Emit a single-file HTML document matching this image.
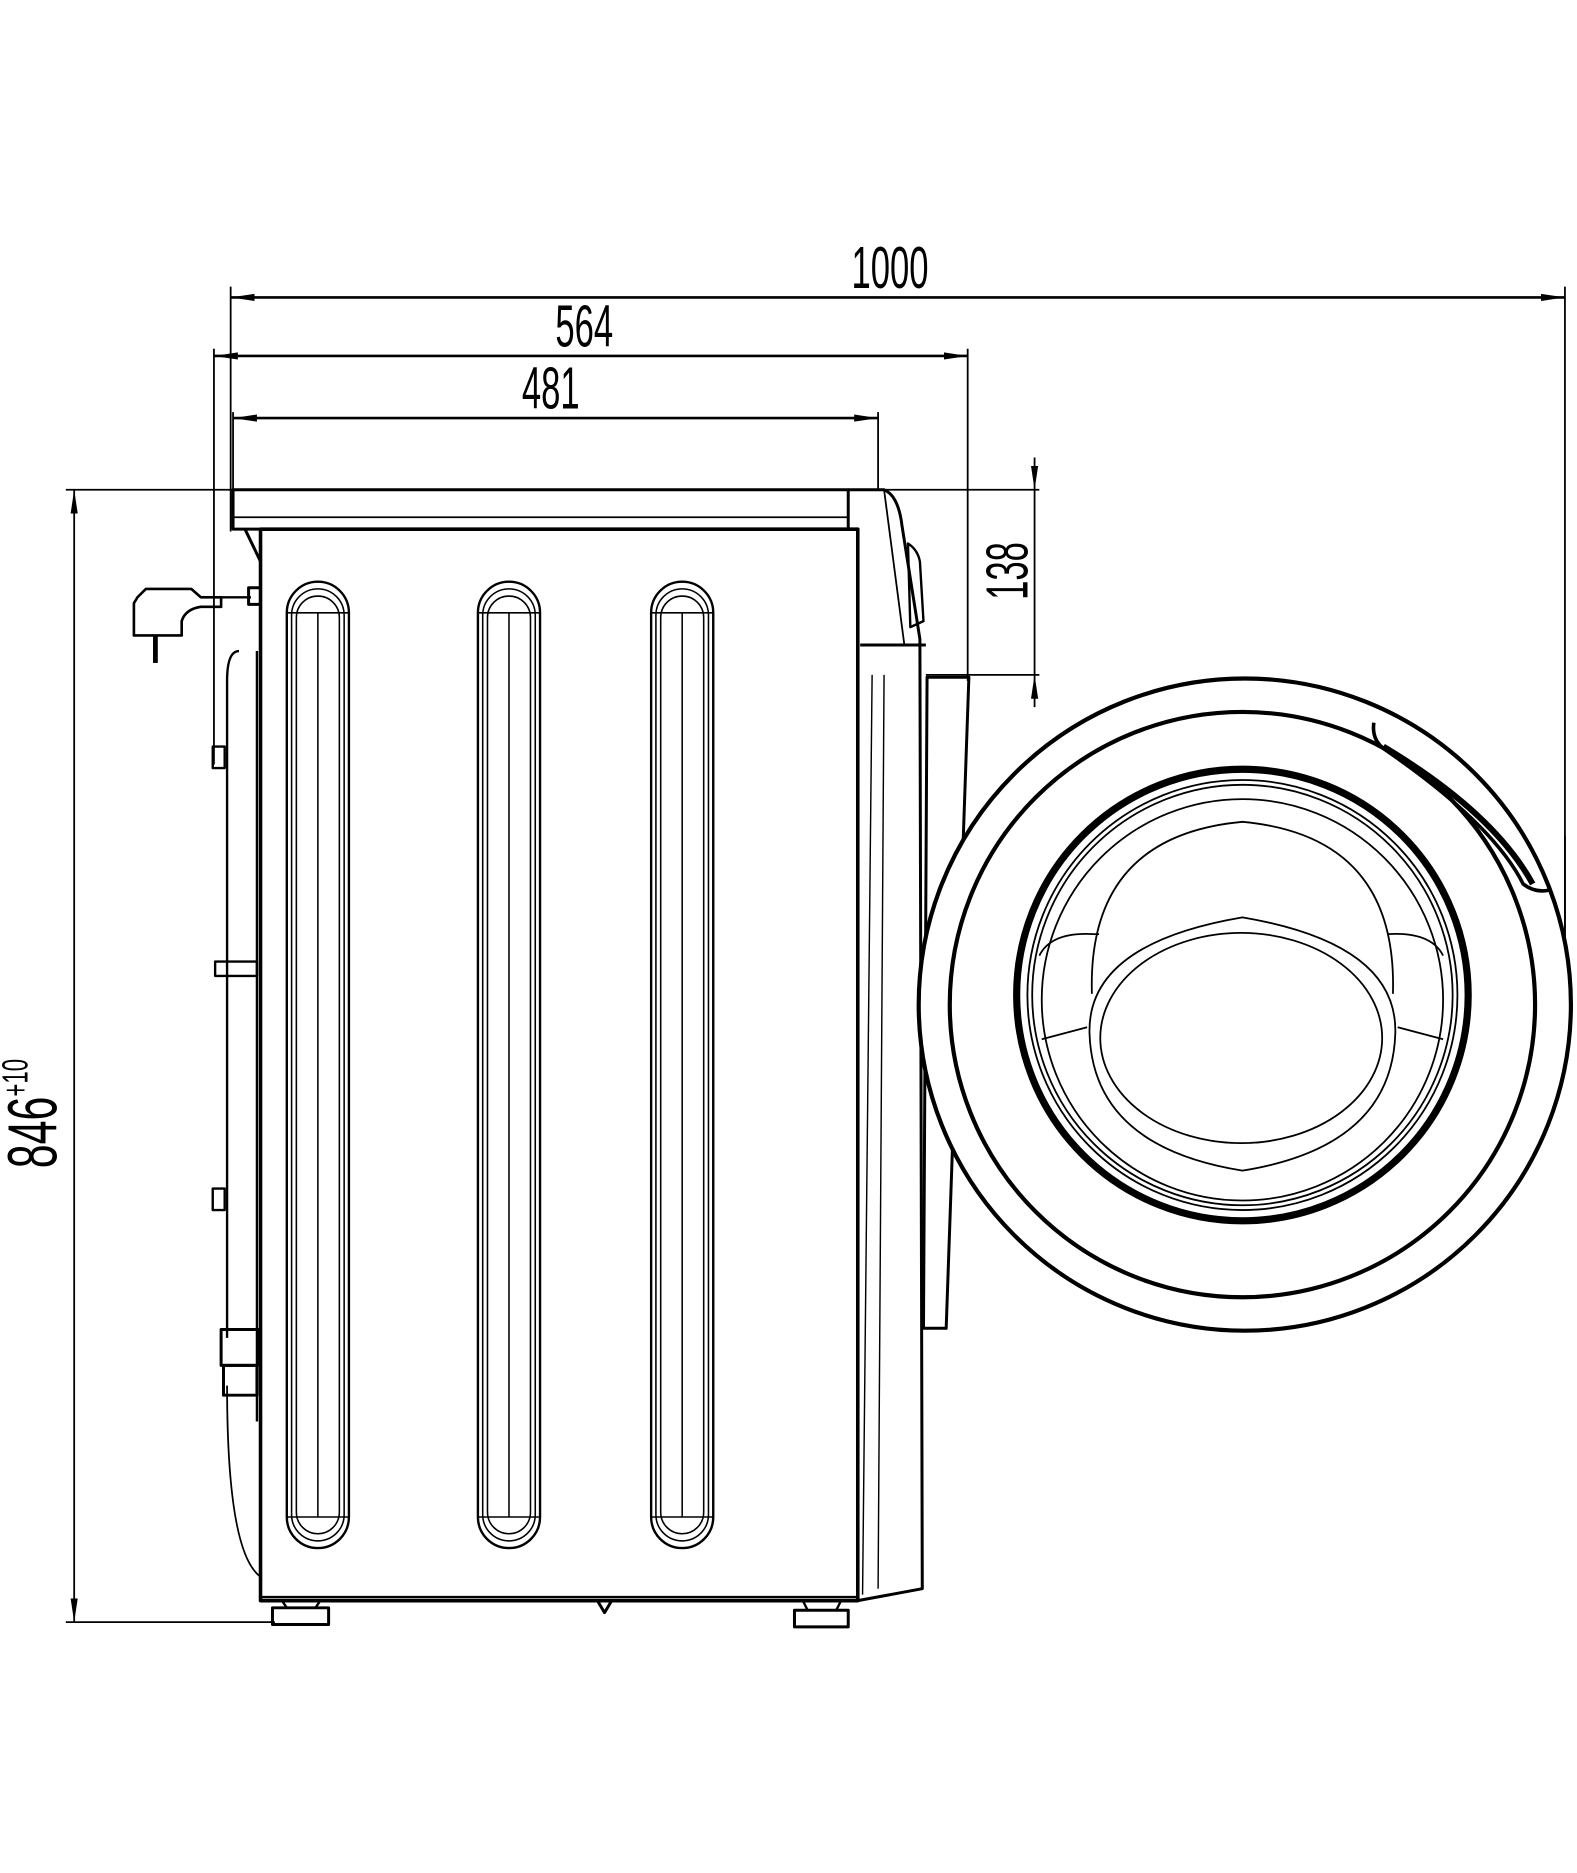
<!DOCTYPE html>
<html><head><meta charset="utf-8"><style>html,body{margin:0;padding:0;background:#fff}svg{display:block}</style></head>
<body>
<svg width="1577" height="1873" viewBox="0 0 1320 1568" xmlns="http://www.w3.org/2000/svg" fill="none" stroke="#000" stroke-linejoin="round">
<defs><marker id="a" viewBox="0 0 20 8" refX="20" refY="4" markerWidth="20" markerHeight="8" markerUnits="userSpaceOnUse" orient="auto-start-reverse"><path d="M0,1 L20,4 L0,7 Z" fill="#000" stroke="none"/></marker></defs>
<g stroke-width="1.5">
<line x1="193" y1="249" x2="1310" y2="249" stroke-width="2.2" marker-start="url(#a)" marker-end="url(#a)"/>
<line x1="193" y1="240" x2="193" y2="445"/>
<line x1="1310" y1="240" x2="1310" y2="790"/>
<line x1="179" y1="298" x2="810" y2="298" stroke-width="2.2" marker-start="url(#a)" marker-end="url(#a)"/>
<line x1="179" y1="292" x2="179" y2="640"/>
<line x1="810" y1="292" x2="810" y2="570"/>
<line x1="195" y1="350" x2="735" y2="350" stroke-width="2.2" marker-start="url(#a)" marker-end="url(#a)"/>
<line x1="195" y1="345" x2="195" y2="410"/>
<line x1="735" y1="345" x2="735" y2="410"/>
<line x1="55" y1="410" x2="870" y2="410"/>
<line x1="62" y1="410" x2="62" y2="1358" marker-start="url(#a)" marker-end="url(#a)"/>
<line x1="55" y1="1358" x2="230" y2="1358"/>
<line x1="866" y1="383" x2="866" y2="410" marker-end="url(#a)"/>
<line x1="866" y1="565" x2="866" y2="592" marker-start="url(#a)"/>
<line x1="866" y1="410" x2="866" y2="565"/>
<line x1="775" y1="565" x2="870" y2="565"/>
</g>
<g fill="#000" stroke="none" font-family="'Liberation Sans',sans-serif" font-size="50">
<text transform="translate(745,241) scale(0.58,1)" text-anchor="middle">1000</text>
<text transform="translate(489,290) scale(0.58,1)" text-anchor="middle">564</text>
<text transform="translate(461,342) scale(0.58,1)" text-anchor="middle">481</text>
<text transform="translate(860,478) rotate(-90) scale(0.58,1)" text-anchor="middle">138</text>
<text transform="translate(47,978) rotate(-90) scale(0.62,1)" font-size="58">846<tspan font-size="30" dy="-24">+10</tspan></text>
</g>
<!-- machine body -->
<g stroke-width="2.5">
<rect x="195" y="410" width="515" height="33"/>
<line x1="195" y1="433" x2="710" y2="433" stroke-width="1.5"/>
<rect x="218" y="443" width="500" height="897" stroke-width="3"/>
<line x1="218" y1="1337" x2="718" y2="1337" stroke-width="2"/>
<path d="M710,410 H740 Q752,415 755,440 L770,535 L772,1330 L718,1340"/>
<path d="M740,410 L757,540" stroke-width="1.5"/>
<path d="M720,540 H775"/>
<path d="M760,455 Q768,460 770,470 L773,520 L762,525 Z" stroke-width="2"/>
<path d="M776,567 H811 L792,1112 H773 Z" stroke-width="2.5"/>
<path d="M730,565 L722,1335 M740,565 L735,1330" stroke-width="1.2"/>
<path d="M205,443 L218,470" />
<path d="M200,545 Q190,545 190,570 L190,1120 M215,545 L215,1190" stroke-width="2"/>
<path d="M190,1160 Q190,1300 218,1320" stroke-width="1.5"/>
<rect x="185" y="1113" width="32" height="30"/><rect x="187" y="1143" width="28" height="25"/>
<rect x="180" y="805" width="35" height="12" stroke-width="2"/>
<rect x="178" y="625" width="10" height="18" stroke-width="2"/><rect x="178" y="995" width="10" height="18" stroke-width="2"/>
<!-- plug -->
<path d="M115,500 L122,493 H160 L168,500 H185 V508 H168 Q155,510 152,520 V532 H112 V505 Z" stroke-width="2.2"/>
<line x1="130" y1="532" x2="130" y2="555" stroke-width="4"/>
<line x1="185" y1="500" x2="210" y2="500" stroke-width="2"/>
<rect x="208" y="492" width="10" height="14"/>
<!-- feet -->
<rect x="228" y="1346" width="47" height="14"/><rect x="665" y="1348" width="45" height="14"/>
<path d="M236,1340 L240,1346 M268,1340 L264,1346 M672,1340 L676,1348 M704,1340 L700,1348" stroke-width="2"/>
<path d="M500,1340 L506,1350 L512,1340"/>
</g>
<!-- ribs -->
<g stroke-width="1.3">
<g id="rib">
<path d="M240,513 A26,26 0 0 1 292,513 V1270 A26,26 0 0 1 240,1270 Z" stroke-width="2"/>
<path d="M244,515 A22,22 0 0 1 288,515 V1268 A22,22 0 0 1 244,1268 Z"/>
<path d="M248,517 A18,18 0 0 1 284,517 V1266 A18,18 0 0 1 248,1266 Z"/>
<line x1="266" y1="513" x2="266" y2="1270"/>
<line x1="240" y1="513" x2="292" y2="513"/><line x1="240" y1="1270" x2="292" y2="1270"/>
</g>
<use href="#rib" x="160"/>
<use href="#rib" x="305"/>
</g>
<!-- porthole -->
<g>
<ellipse cx="1042" cy="841" rx="273" ry="273" stroke-width="3.5" fill="#fff"/>
<line x1="1310" y1="700" x2="1310" y2="790" stroke-width="1.5"/>
<ellipse cx="1040" cy="841" rx="245" ry="245" stroke-width="3.5"/>
<path d="M1150,605 Q1148,620 1160,628 Q1250,690 1275,740 Q1285,748 1298,745" stroke-width="3"/>
<path d="M1158,625 Q1250,680 1283,740" stroke-width="5"/>
<circle cx="1040" cy="833" r="189" stroke-width="6"/>
<circle cx="1040" cy="833" r="180" stroke-width="1.5"/>
<circle cx="1040" cy="833" r="176" stroke-width="1.5"/>
<circle cx="1040" cy="837" r="168" stroke-width="1.5"/>
<path d="M914,832 Q910,700 1040,688 Q1170,700 1166,832" stroke-width="1.5"/>
<ellipse cx="1039" cy="869" rx="118" ry="88" stroke-width="1.5"/>
<path d="M912,865 Q910,790 1040,768 Q1170,790 1168,865 Q1165,960 1040,980 Q915,960 912,865 Z" stroke-width="1.5"/>
<path d="M915,782 Q880,780 870,800 M1162,782 Q1198,780 1208,800 M915,782 H920 M872,870 L910,860 M1208,870 L1170,860" stroke-width="1.5"/>
</g>
</svg>
</body></html>
